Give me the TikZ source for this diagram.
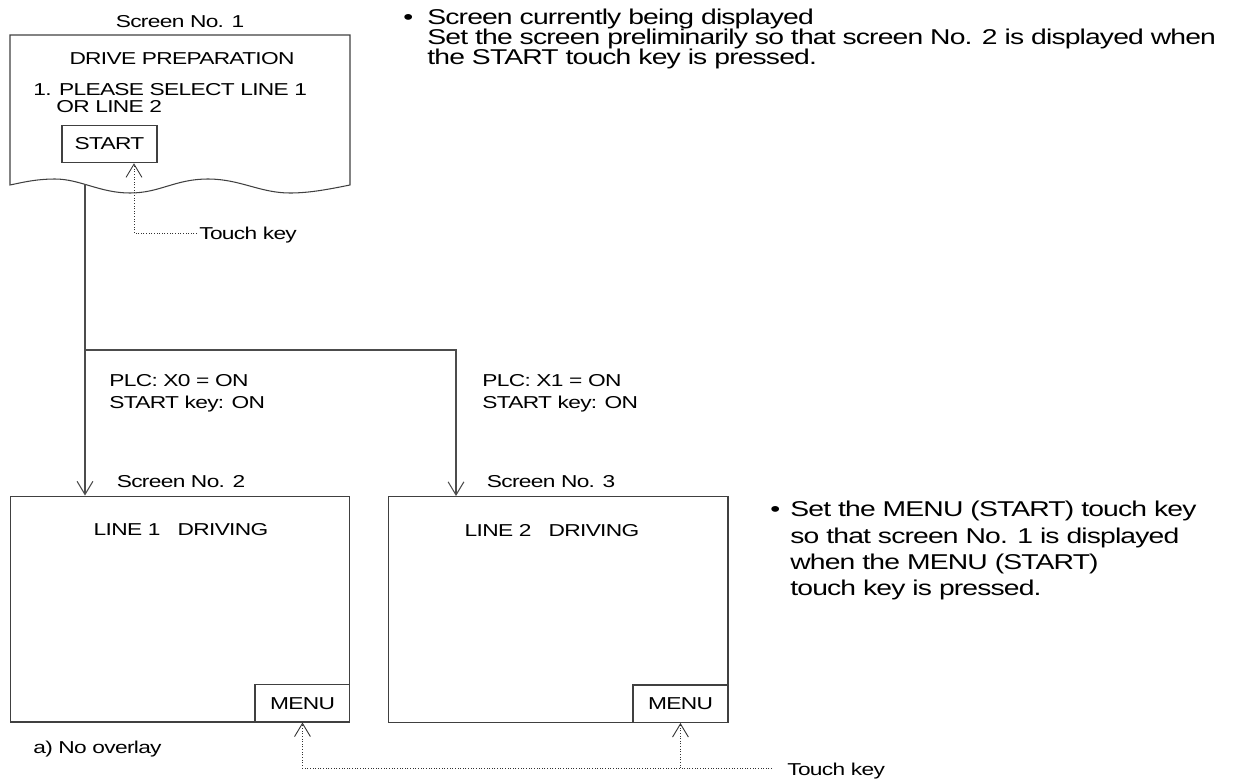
\documentclass[tikz,border=0pt]{standalone}
\usepackage{fontspec}
\setmainfont{Liberation Sans}[FakeStretch=1.32,LetterSpace=-4]
\usetikzlibrary{arrows.meta}

\tikzset{
  lbl/.style={inner sep=0pt, font=\fontsize{9.8}{12}\selectfont},
  note/.style={inner sep=0pt, font=\fontsize{12.2}{10}\selectfont},
  scrline/.style={draw=black!75, line width=0.6pt},
  scrbox/.style={scrline, minimum width=6.8cm, minimum height=4.52cm, inner sep=0pt},
  keybox/.style={scrline, minimum width=1.9cm, minimum height=0.75cm, inner sep=0pt, font=\fontsize{9.8}{12}\selectfont},
  flow/.style={draw=black!70, line width=0.6pt},
  ptr/.style={draw=black!80, line width=0.5pt, dash pattern=on 0.5pt off 1pt},
  barb/.style={-{Straight Barb[length=7.5pt,width=9pt]}}
}

\begin{document}
\begin{tikzpicture}[x=0.02cm,y=-0.02cm]
\useasboundingbox (0,0) rectangle (1237,782);

% screen 1 (torn bottom edge)
\draw[scrline] (10,185) -- (10,35) -- (350,35) -- (350,185)
  .. controls (330,189) and (310,193) .. (290,193)
  .. controls (260,193) and (240,179) .. (208,179)
  .. controls (175,179) and (160,193) .. (130,193)
  .. controls (100,193) and (80,179) .. (55,179)
  .. controls (35,179) and (20,183) .. (10,185) -- cycle;
\node (cap1) [lbl, anchor=base] at (180,27) {Screen No. 1};
\node (drive) [lbl, anchor=base] at (182,64) {DRIVE PREPARATION};
\node (please) [lbl, anchor=base west] at (33,95) {1. PLEASE SELECT LINE 1};
\node (orline) [lbl, anchor=base west] at (56,112) {OR LINE 2};
\node (start) [keybox] at (109.5,144) {START};

% touch key of screen 1
\coordinate (tk1) at (197,233);
\coordinate (tk1b) at (134,233);
\draw[ptr,barb] (tk1) -- (tk1b) -- (tk1b |- start.south);
\node (tklbl1) [lbl, anchor=base west] at (199,239) {Touch key};

% screens 2 and 3
\node (scr2) [scrbox] at (180,609) {};
\node (cap2) [lbl, anchor=base] at (181,487) {Screen No. 2};
\node (drv1) [lbl, anchor=base] at (181,535) {LINE 1\quad DRIVING};
\node (menu2) [keybox, anchor=south east] at (scr2.south east) {MENU};

\node (scr3) [scrbox] at (558,609.5) {};
\node (cap3) [lbl, anchor=base] at (551,487) {Screen No. 3};
\node (drv2) [lbl, anchor=base] at (552,536) {LINE 2\quad DRIVING};
\node (menu3) [keybox, anchor=south east] at (scr3.south east) {MENU};

\node (nolay) [lbl, anchor=base west] at (33,753) {a) No overlay};

% branching
\coordinate (s1out) at (85,184);
\coordinate (br) at (85,350);
\coordinate (b3) at (456,350);
\draw[flow,barb] (s1out) -- (s1out |- scr2.north);
\draw[flow,barb] (br) -- (b3) -- (b3 |- scr3.north);
\node (plc0) [lbl, anchor=base west] at (109,386) {PLC: X0 = ON};
\node (key0) [lbl, anchor=base west] at (109,408) {START key: ON};
\node (plc1) [lbl, anchor=base west] at (482,386) {PLC: X1 = ON};
\node (key1) [lbl, anchor=base west] at (482,408) {START key: ON};

% touch keys of screens 2 and 3
\coordinate (tk2) at (772,768);
\draw[ptr,barb] (tk2) -- (menu2.south |- tk2) -- (menu2.south);
\draw[ptr,barb] (menu3.south |- tk2) -- (menu3.south);
\node (tklbl2) [lbl, anchor=base west] at (787,775) {Touch key};

% notes
\node (dot1) [note, anchor=base west] at (403,24) {•};
\node (n1a) [note, anchor=base west] at (427,24) {Screen currently being displayed};
\node (n1b) [note, anchor=base west] at (427,44) {Set the screen preliminarily so that screen No. 2 is displayed when};
\node (n1c) [note, anchor=base west] at (427,64) {the START touch key is pressed.};

\node (dot2) [note, anchor=base west] at (770,516) {•};
\node (n2a) [note, anchor=base west] at (790,516) {Set the MENU (START) touch key};
\node (n2b) [note, anchor=base west] at (790,543) {so that screen No. 1 is displayed};
\node (n2c) [note, anchor=base west] at (790,569) {when the MENU (START)};
\node (n2d) [note, anchor=base west] at (790,595) {touch key is pressed.};
\end{tikzpicture}
\end{document}
